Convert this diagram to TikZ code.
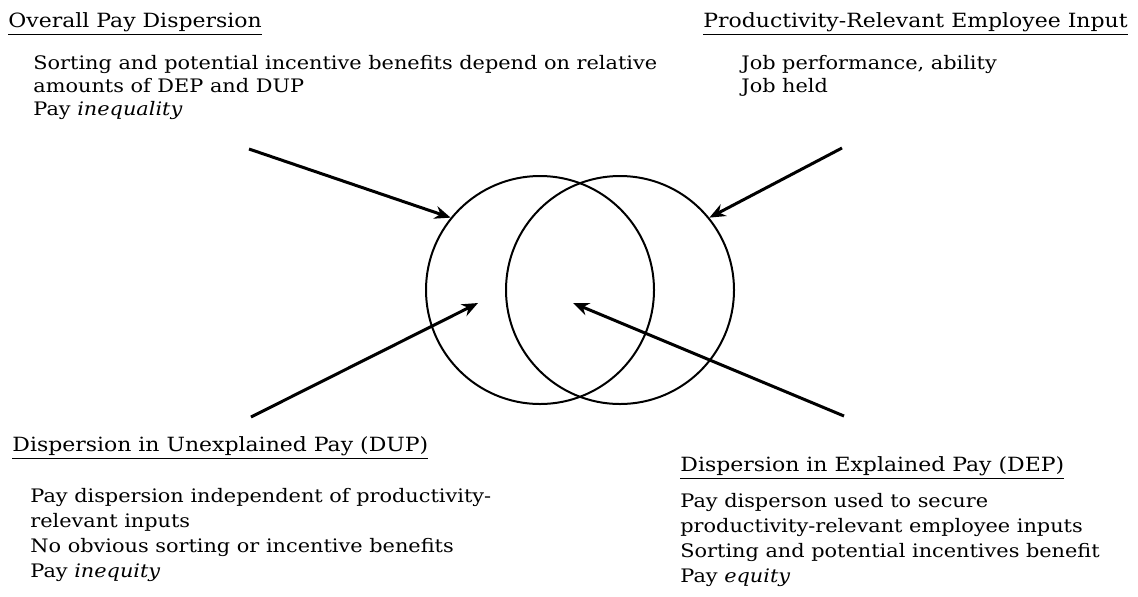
\documentclass[tikz,border=0pt]{standalone}
\usepackage{fontspec}
\setmainfont[FakeStretch=1.12]{DejaVu Serif}
\usetikzlibrary{arrows.meta, positioning, calc}

\begin{document}
\begin{tikzpicture}[x=0.5pt, y=-0.5pt, >={Stealth[length=8pt, width=6.5pt]}, every node/.style={inner sep=0pt, font=\fontsize{9.3}{11.5}\selectfont}, head/.style={anchor=base west, font=\fontsize{9.8}{11.8}\selectfont}, body/.style={anchor=north west, align=left}, lower/.style={body, font=\fontsize{9.3}{12.5}\selectfont}, ring/.style={circle, draw, line width=1pt, minimum size=114pt}, pointer/.style={->, line width=1.5pt} ]

                                \useasboundingbox (0,0) rectangle (1138,596);

                                \node (hOverall) [head] at (8,27) {\underline{Overall Pay Dispersion}};
                                \node (tOverall) [body] at (33,55) {Sorting and potential incentive benefits depend on relative\\amounts  of DEP and DUP\\Pay \textit{inequality}};

                                \node (hInput) [head] at (703,27) {\underline{Productivity-Relevant Employee Input}};
                                \node (tInput) [body] at (741,55) {Job performance, ability\\Job held};

                                \node (hDUP) [head] at (12,451) {\underline{Dispersion in Unexplained Pay (DUP)}};
                                \node (tDUP) [lower] at (30,488) {Pay dispersion independent of productivity-\\relevant inputs\\No obvious sorting or incentive benefits\\Pay \textit{inequity}};

                                \node (hDEP) [head] at (680,471) {\underline{Dispersion in Explained Pay (DEP)}};
                                \node (tDEP) [lower] at (680,493) {Pay disperson used to secure\\productivity-relevant employee inputs\\Sorting and potential incentives benefit\\Pay \textit{equity}};

                                \node (lc) [ring] at (540,290) {};
                                \node (rc) [ring] at (620,290) {};

                                \coordinate (sOverall) at (249,149);
                                \coordinate (sInput) at (842,148);
                                \coordinate (sDUP) at (251,417);
                                \coordinate (sDEP) at (844,416);
                                \coordinate (eDUP) at (478,303);
                                \coordinate (eDEP) at (573,303);

                                \draw [pointer] (sOverall) to (lc.141);
                                \draw [pointer] (sInput) to (rc.39);
                                \draw [pointer] (sDUP) to (eDUP);
                                \draw [pointer] (sDEP) to (eDEP);
                        \end{tikzpicture}
\end{document}
